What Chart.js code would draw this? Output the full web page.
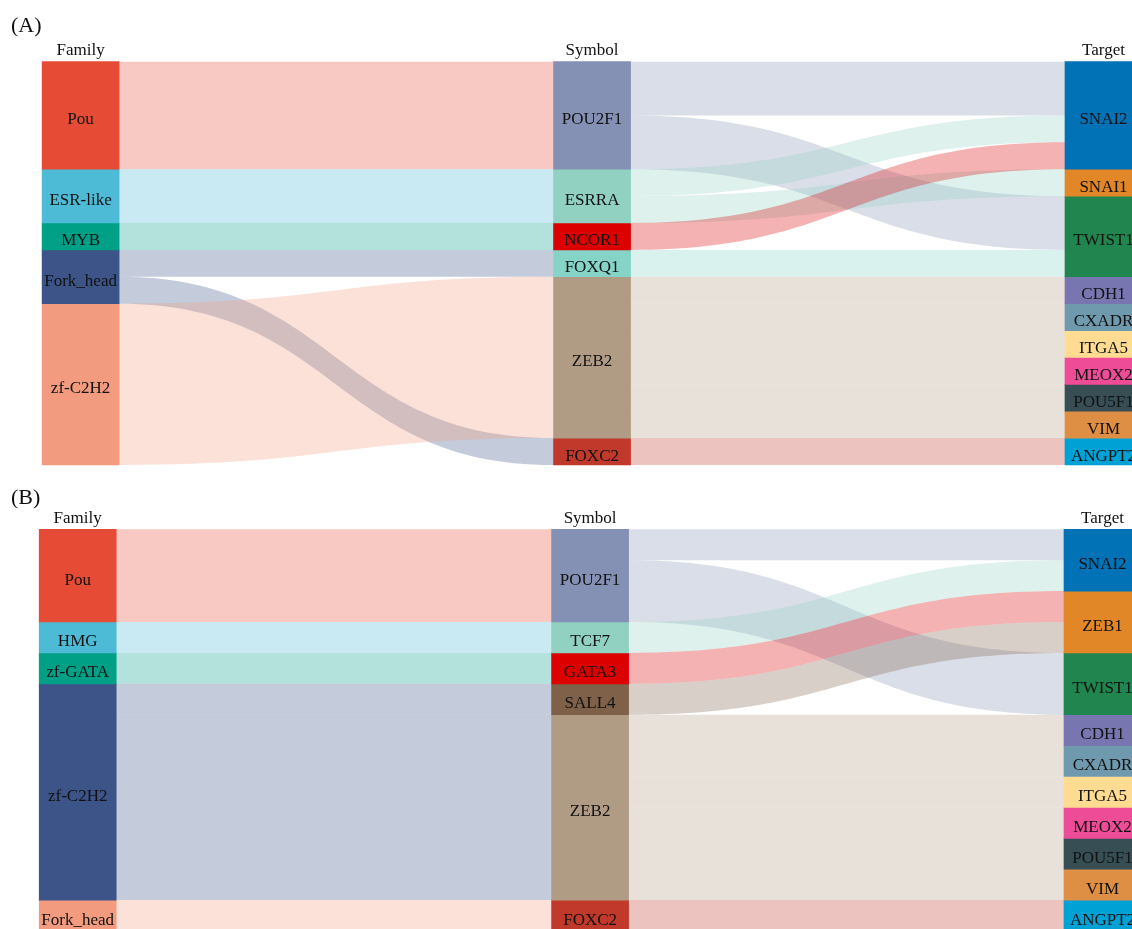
<!DOCTYPE html>
<html><head><meta charset="utf-8">
<script src="https://cdn.jsdelivr.net/npm/chart.js@4.4.1/dist/chart.umd.min.js"></script>
<style>
html,body{margin:0;padding:0;background:#fff;overflow:hidden;width:1132px;height:929px;}
#wrap{position:relative;width:1132px;height:929px;overflow:hidden;}
canvas{position:absolute;left:0;}
.tag{position:absolute;left:11px;font-family:'Liberation Serif','Times New Roman',serif;font-size:22px;line-height:22px;color:#111;}
</style></head>
<body><div id="wrap">
<canvas id="cA" width="1132" height="470" style="top:0px"></canvas>
<canvas id="cB" width="1132" height="470" style="top:470px"></canvas>
<div class="tag" style="top:14px">(A)</div>
<div class="tag" style="top:486px">(B)</div>
</div>
<script>
const FONT = "'Liberation Serif','Times New Roman',serif";
const columns = ['Family', 'Symbol', 'Target'];

// ---------- Panel A data ----------
const familyA = ['Pou', 'ESR-like', 'MYB', 'Fork_head', 'zf-C2H2'];
const familyValuesA = [4, 2, 1, 2, 6];
const symbolA = ['POU2F1', 'ESRRA', 'NCOR1', 'FOXQ1', 'ZEB2', 'FOXC2'];
const symbolValuesA = [4, 2, 1, 1, 6, 1];
const targetA = ['SNAI2', 'SNAI1', 'TWIST1', 'CDH1', 'CXADR', 'ITGA5', 'MEOX2', 'POU5F1', 'VIM', 'ANGPT2'];
const targetValuesA = [4, 1, 3, 1, 1, 1, 1, 1, 1, 1];
const flowsFamilySymbolA = [['Pou','POU2F1',4],['ESR-like','ESRRA',2],['MYB','NCOR1',1],['Fork_head','FOXQ1',1],['Fork_head','FOXC2',1],['zf-C2H2','ZEB2',6]];
const flowsSymbolTargetA = [['POU2F1','SNAI2',2],['POU2F1','TWIST1',2],['ESRRA','SNAI2',1],['ESRRA','SNAI1',1],['NCOR1','SNAI2',1],['FOXQ1','TWIST1',1],['ZEB2','CDH1',1],['ZEB2','CXADR',1],['ZEB2','ITGA5',1],['ZEB2','MEOX2',1],['ZEB2','POU5F1',1],['ZEB2','VIM',1],['FOXC2','ANGPT2',1]];

// ---------- Panel B data ----------
const familyB = ['Pou', 'HMG', 'zf-GATA', 'zf-C2H2', 'Fork_head'];
const familyValuesB = [3, 1, 1, 7, 1];
const symbolB = ['POU2F1', 'TCF7', 'GATA3', 'SALL4', 'ZEB2', 'FOXC2'];
const symbolValuesB = [3, 1, 1, 1, 6, 1];
const targetB = ['SNAI2', 'ZEB1', 'TWIST1', 'CDH1', 'CXADR', 'ITGA5', 'MEOX2', 'POU5F1', 'VIM', 'ANGPT2'];
const targetValuesB = [2, 2, 2, 1, 1, 1, 1, 1, 1, 1];
const flowsFamilySymbolB = [['Pou','POU2F1',3],['HMG','TCF7',1],['zf-GATA','GATA3',1],['zf-C2H2','SALL4',1],['zf-C2H2','ZEB2',6],['Fork_head','FOXC2',1]];
const flowsSymbolTargetB = [['POU2F1','SNAI2',1],['POU2F1','TWIST1',2],['TCF7','SNAI2',1],['GATA3','ZEB1',1],['SALL4','ZEB1',1],['ZEB2','CDH1',1],['ZEB2','CXADR',1],['ZEB2','ITGA5',1],['ZEB2','MEOX2',1],['ZEB2','POU5F1',1],['ZEB2','VIM',1],['FOXC2','ANGPT2',1]];

// ---------- colours ----------
const familyColors = ['#E64B35', '#4DBBD5', '#00A087', '#3C5488', '#F39B7F'];
const symbolColorsA = ['#8491B4', '#91D1C2', '#DC0000', '#86D4C8', '#B09C85', '#C0392B'];
const symbolColorsB = ['#8491B4', '#91D1C2', '#DC0000', '#7E6148', '#B09C85', '#C0392B'];
const targetColors = ['#0072B5', '#E18727', '#20854E', '#7876B1', '#6F99AD', '#FFDC91', '#EE4C97', '#374E55', '#DF8F44', '#00A1D5'];
const FLOW_ALPHA = 0.3;

function rgba(hex, a) {
  const n = parseInt(hex.slice(1), 16);
  return `rgba(${(n >> 16) & 255},${(n >> 8) & 255},${n & 255},${a})`;
}
function starts(vals) { const s = []; let c = 0; vals.forEach(v => { s.push(c); c += v; }); return s; }

function makePanel(canvasId, cols, stages, padding) {
  const total = cols[0].values.reduce((a, b) => a + b, 0);
  const nMax = Math.max(...cols.map(c => c.names.length));
  const datasets = [];
  for (let k = 0; k < nMax; k++) {
    datasets.push({
      data: cols.map(c => (k < c.values.length ? c.values[k] : null)),
      backgroundColor: cols.map(c => c.colors[k] || 'rgba(0,0,0,0)'),
      nodeNames: cols.map(c => c.names[k] || null),
      borderWidth: 0,
      barThickness: 77,
      clip: false
    });
  }
  const flowPlugin = {
    id: 'flows',
    beforeDatasetsDraw(chart) {
      const ctx = chart.ctx, xs = chart.scales.x, ys = chart.scales.y;
      const half = chart.getDatasetMeta(0).data[0].width / 2;
      ctx.save();
      stages.forEach((flows, s) => {
        const L = cols[s], R = cols[s + 1];
        const sL = starts(L.values), sR = starts(R.values);
        const cL = L.names.map(() => 0), cR = R.names.map(() => 0);
        const x0 = xs.getPixelForValue(s) + half;
        const x1 = xs.getPixelForValue(s + 1) - half;
        const xm = (x0 + x1) / 2;
        flows.forEach(([a, b, v]) => {
          const i = L.names.indexOf(a), j = R.names.indexOf(b);
          const a0 = sL[i] + cL[i]; cL[i] += v;
          const b0 = sR[j] + cR[j]; cR[j] += v;
          const ya0 = ys.getPixelForValue(a0), ya1 = ys.getPixelForValue(a0 + v);
          const yb0 = ys.getPixelForValue(b0), yb1 = ys.getPixelForValue(b0 + v);
          ctx.beginPath();
          ctx.moveTo(x0 - 1, ya0);
          ctx.lineTo(x0, ya0);
          ctx.bezierCurveTo(xm, ya0, xm, yb0, x1, yb0);
          ctx.lineTo(x1 + 1, yb0);
          ctx.lineTo(x1 + 1, yb1);
          ctx.lineTo(x1, yb1);
          ctx.bezierCurveTo(xm, yb1, xm, ya1, x0, ya1);
          ctx.lineTo(x0 - 1, ya1);
          ctx.closePath();
          ctx.fillStyle = rgba(L.colors[i], FLOW_ALPHA);
          ctx.fill();
        });
      });
      ctx.restore();
    },
    afterDatasetsDraw(chart) {
      const ctx = chart.ctx;
      ctx.save();
      ctx.font = '17px ' + FONT;
      ctx.fillStyle = '#111';
      ctx.textAlign = 'center';
      ctx.textBaseline = 'middle';
      chart.data.datasets.forEach((ds, k) => {
        chart.getDatasetMeta(k).data.forEach((el, c) => {
          const name = ds.nodeNames[c];
          if (!name || ds.data[c] == null) return;
          ctx.fillText(name, el.x, (el.y + el.base) / 2 + 4.5);
        });
      });
      ctx.restore();
    }
  };
  return new Chart(document.getElementById(canvasId), {
    type: 'bar',
    data: { labels: columns, datasets },
    options: {
      responsive: false,
      animation: false,
      events: [],
      layout: { padding },
      plugins: { legend: { display: false }, tooltip: { enabled: false }, title: { display: false } },
      scales: {
        x: {
          type: 'category', position: 'top', stacked: true, offset: false,
          grid: { display: false, drawTicks: false }, border: { display: false },
          ticks: { color: '#111', font: { family: FONT, size: 17 }, padding: 0.5, autoSkip: false, maxRotation: 0 }
        },
        y: { type: 'linear', stacked: true, reverse: true, min: 0, max: total, display: false }
      }
    },
    plugins: [flowPlugin]
  });
}

makePanel('cA', [
  { names: familyA, values: familyValuesA, colors: familyColors },
  { names: symbolA, values: symbolValuesA, colors: symbolColorsA },
  { names: targetA, values: targetValuesA, colors: targetColors }
], [flowsFamilySymbolA, flowsSymbolTargetA], { left: 80.6, right: 28.5, top: 40.3, bottom: 5 });

makePanel('cB', [
  { names: familyB, values: familyValuesB, colors: familyColors },
  { names: symbolB, values: symbolValuesB, colors: symbolColorsB },
  { names: targetB, values: targetValuesB, colors: targetColors }
], [flowsFamilySymbolB, flowsSymbolTargetB], { left: 77.7, right: 29.5, top: 37.9, bottom: 9 });
</script>
</body></html>
